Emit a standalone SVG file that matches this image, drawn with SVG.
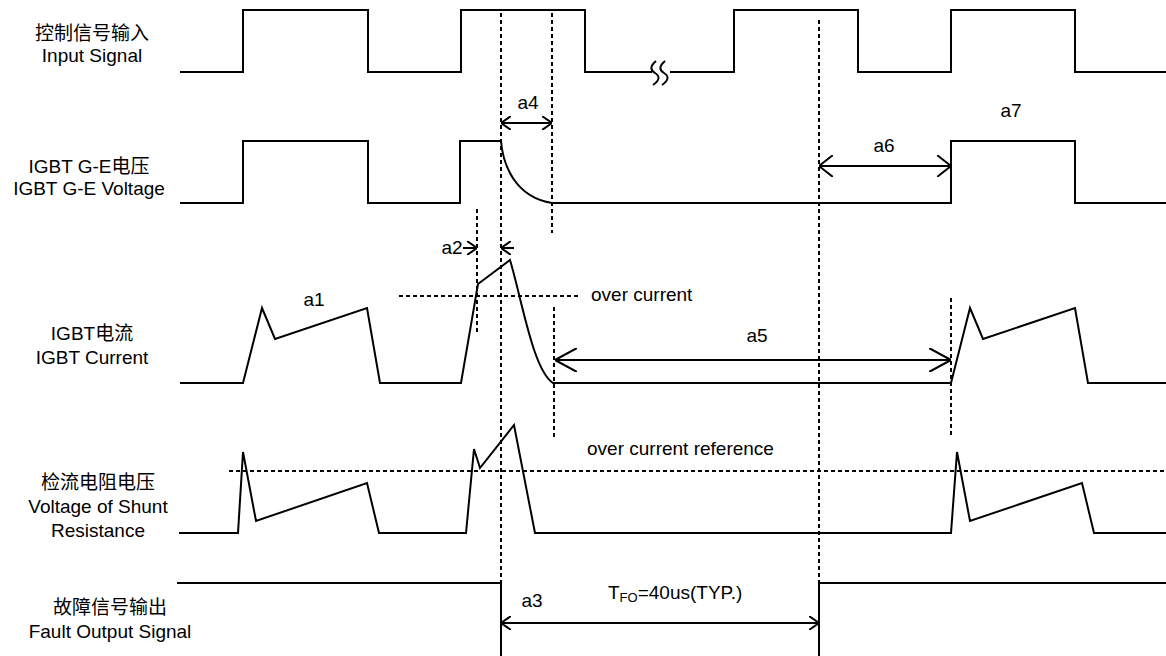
<svg xmlns="http://www.w3.org/2000/svg" width="1166" height="656" viewBox="0 0 1166 656">
<style>
.w{fill:none;stroke:#000;stroke-width:2;stroke-linejoin:miter}
.d{fill:none;stroke:#000;stroke-width:2;stroke-dasharray:4 3}
.a{fill:none;stroke:#000;stroke-width:2}
text{font-family:"Liberation Sans",Arial,"Noto Sans CJK SC",sans-serif;font-size:19px;fill:#000}
.lb{text-anchor:middle}
</style>
<defs>
<marker id="ms" viewBox="0 0 10 14" refX="10" refY="7" markerWidth="10" markerHeight="14" markerUnits="userSpaceOnUse" orient="auto-start-reverse"><path d="M0,0 L10,7 L0,14" fill="none" stroke="#000" stroke-width="2"/></marker>
<marker id="mm" viewBox="0 0 14 22" refX="14" refY="11" markerWidth="14" markerHeight="22" markerUnits="userSpaceOnUse" orient="auto-start-reverse"><path d="M0,0 L14,11 L0,22" fill="none" stroke="#000" stroke-width="2"/></marker>
<marker id="ml" viewBox="0 0 22 24" refX="22" refY="12" markerWidth="22" markerHeight="24" markerUnits="userSpaceOnUse" orient="auto-start-reverse"><path d="M0,0 L22,12 L0,24" fill="none" stroke="#000" stroke-width="2"/></marker>
</defs>
<rect width="1166" height="656" fill="#fff"/>

<g id="labels">
<text class="lb" x="92" y="40">控制信号输入</text>
<text class="lb" x="92" y="62">Input Signal</text>
<text class="lb" x="89" y="173">IGBT G-E电压</text>
<text class="lb" x="89" y="195">IGBT G-E Voltage</text>
<text class="lb" x="92" y="340">IGBT电流</text>
<text class="lb" x="92" y="364">IGBT Current</text>
<text class="lb" x="98" y="489">检流电阻电压</text>
<text class="lb" x="98" y="513">Voltage of Shunt</text>
<text class="lb" x="98" y="537">Resistance</text>
<text class="lb" x="110" y="614">故障信号输出</text>
<text class="lb" x="110" y="638">Fault Output Signal</text>
</g>

<g id="input-signal">
<path class="w" d="M180,72 H243 V10 H368 V72 H461 V10 H585 V72 H652"/>
<path class="w" d="M670,72 H734 V10 H858 V72 H951 V10 H1075 V72 H1166"/>
<path class="w" d="M656,61 C650,66 650,70 655,73 C660,76 660,80 653,85"/>
<path class="w" d="M665,61 C659,66 659,70 664,73 C669,76 669,80 662,85"/>
</g>

<g id="ge-voltage">
<path class="w" d="M180,203 H243 V141 H368 V203 H460 V141 H501 C503,165 515,197 552,203 H951 V141 H1075 V203 H1166"/>
</g>

<g id="igbt-current">
<path class="w" d="M180,383 H243 L262,308 L275,339 L367,308 L380,383 H461 L478,284 L510,260 C522,300 533,370 553,383 H951 L970,308 L983,339 L1075,308 L1088,383 H1166"/>
<path class="d" d="M399,296 H578"/>
</g>

<g id="shunt-voltage">
<path class="w" d="M179,533 H238 L243,452 L256,521 L367,483 L379,533 H466 L474,449 L480,468 L514,425 L535,533 H951 L957,452 L970,521 L1082,483 L1094,533 H1166"/>
<path class="d" d="M229,471 H1166"/>
</g>

<g id="fault-output">
<path class="w" d="M177,583 H501 V656"/>
<path class="w" d="M819,656 V583 H1166"/>
</g>

<g id="connectors">
<path class="d" d="M477,209 V332"/>
<path class="d" d="M501,13 V583"/>
<path class="d" d="M552,13 V233"/>
<path class="d" d="M554,307 V437"/>
<path class="d" d="M819,20 V583"/>
<path class="d" d="M951,298 V437"/>
<line class="a" x1="501" y1="123" x2="552" y2="123" marker-start="url(#ms)" marker-end="url(#ms)"/>
<line class="a" x1="463" y1="248" x2="477" y2="248" marker-end="url(#ms)"/>
<line class="a" x1="514" y1="248" x2="501" y2="248" marker-end="url(#ms)"/>
<line class="a" x1="555" y1="360" x2="951" y2="360" marker-start="url(#ml)" marker-end="url(#ml)"/>
<line class="a" x1="819" y1="166" x2="951" y2="166" marker-start="url(#mm)" marker-end="url(#mm)"/>
<line class="a" x1="501" y1="623" x2="819" y2="623" marker-start="url(#ms)" marker-end="url(#ms)"/>
</g>

<g id="annotations">
<text x="528" y="109" text-anchor="middle">a4</text>
<text x="1011" y="117" text-anchor="middle">a7</text>
<text x="884" y="152" text-anchor="middle">a6</text>
<text x="452" y="254" text-anchor="middle">a2</text>
<text x="314" y="306" text-anchor="middle">a1</text>
<text x="591" y="301">over current</text>
<text x="757" y="342" text-anchor="middle">a5</text>
<text x="587" y="455">over current reference</text>
<text x="532" y="607" text-anchor="middle">a3</text>
<text x="608" y="599">T<tspan font-size="13" dy="3">FO</tspan><tspan dy="-3">=40us(TYP.)</tspan></text>
</g>
</svg>
